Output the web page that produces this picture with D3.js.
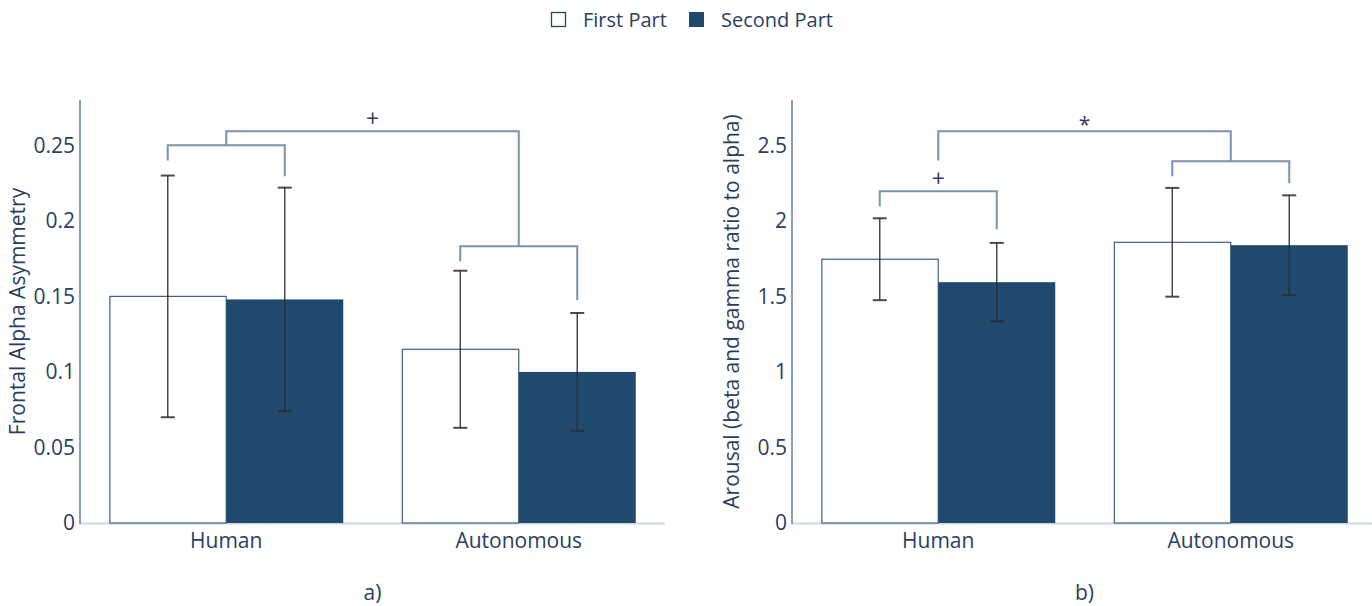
<!DOCTYPE html>
<html>
<head>
<meta charset="utf-8">
<script src="https://cdn.jsdelivr.net/npm/d3@7"></script>
<style>
  html, body { margin: 0; padding: 0; background: #fff; }
  svg { display: block; font-family: "Open Sans", "Noto Sans", sans-serif; }
</style>
</head>
<body>
<svg id="chart" width="1372" height="606"></svg>
<script>
// ---------- data ----------
const categories = ["Human", "Autonomous"];
const seriesNames = ["First Part", "Second Part"];

// Panel a) Frontal Alpha Asymmetry
const faaFirst = [0.150, 0.115];
const faaSecond = [0.148, 0.100];
const faaFirstErr = [0.080, 0.052];
const faaSecondErr = [0.074, 0.039];
const faaTicks = [0, 0.05, 0.1, 0.15, 0.2, 0.25];

// Panel b) Arousal
const arFirst = [1.746, 1.858];
const arSecond = [1.594, 1.839];
const arFirstErr = [0.271, 0.360];
const arSecondErr = [0.260, 0.330];
const arTicks = [0, 0.5, 1, 1.5, 2, 2.5];

// significance brackets: from/to = [category, series index (0.5 = group centre)]
const faaBrackets = [
  { from: ["Human", 0], to: ["Human", 1], y: 0.250, yFrom: 0.240, yTo: 0.2295, label: "" },
  { from: ["Autonomous", 0], to: ["Autonomous", 1], y: 0.1832, yFrom: 0.1733, yTo: 0.1475, label: "" },
  { from: ["Human", 0.5], to: ["Autonomous", 0.5], y: 0.2593, yFrom: 0.250, yTo: 0.1832, label: "+" }
];
const arBrackets = [
  { from: ["Human", 0], to: ["Human", 1], y: 2.196, yFrom: 2.097, yTo: 1.944, label: "+" },
  { from: ["Autonomous", 0], to: ["Autonomous", 1], y: 2.394, yFrom: 2.295, yTo: 2.249, label: "" },
  { from: ["Human", 0.5], to: ["Autonomous", 0.5], y: 2.593, yFrom: 2.400, yTo: 2.394, label: "*" }
];

// ---------- style ----------
const DARK = "#1f4a6d";
const TEXT = "#2a3f5f";
const AXIS = "#6b87a5";
const BASE = "#cdd7e2";
const BRACKET = "#7893b1";
const ERR = "#2b2b2b";

const svg = d3.select("#chart");

// legend
const legend = svg.append("g");
legend.append("rect").attr("x", 551.5).attr("y", 12.5).attr("width", 14).attr("height", 14)
  .attr("fill", "#fff").attr("stroke", DARK).attr("stroke-width", 1.3);
legend.append("text").attr("x", 583).attr("y", 27).attr("fill", TEXT).attr("font-size", 20).text(seriesNames[0]);
legend.append("rect").attr("x", 689).attr("y", 12).attr("width", 15).attr("height", 15)
  .attr("fill", DARK);
legend.append("text").attr("x", 721).attr("y", 27).attr("fill", TEXT).attr("font-size", 20).text(seriesNames[1]);

function panel(opts) {
  const { x0, x1, yTop, yBot, yMax, first, second, firstErr, secondErr, ticks, title, subLabel, brackets, titleX } = opts;
  const g = svg.append("g");

  const x = d3.scaleBand().domain(categories).range([x0, x1]).paddingInner(0.2).paddingOuter(0.1);
  const xs = d3.scaleBand().domain([0, 1]).range([0, x.bandwidth()]).padding(0);
  const y = d3.scaleLinear().domain([0, yMax]).range([yBot, yTop]);

  const data = [];
  categories.forEach((c, i) => {
    data.push({ cat: c, s: 0, v: first[i], e: firstErr[i] });
    data.push({ cat: c, s: 1, v: second[i], e: secondErr[i] });
  });

  // baseline
  g.append("line").attr("x1", x0).attr("x2", x1).attr("y1", yBot + 0.5).attr("y2", yBot + 0.5)
    .attr("stroke", BASE).attr("stroke-width", 2);

  // bars
  g.selectAll("rect.bar").data(data).enter().append("rect")
    .attr("class", "bar")
    .attr("x", d => x(d.cat) + xs(d.s) + (d.s === 0 ? 0.6 : 0))
    .attr("width", d => xs.bandwidth() - (d.s === 0 ? 0.6 : 0))
    .attr("y", d => y(d.v))
    .attr("height", d => y(0) - y(d.v))
    .attr("fill", d => d.s === 0 ? "#fff" : DARK)
    .attr("stroke", d => d.s === 0 ? "#3e6185" : "none")
    .attr("stroke-width", 1.2);

  // y axis
  const yAxis = d3.axisLeft(y).tickValues(ticks).tickSize(0).tickPadding(5).tickFormat(d3.format("~g"));
  const ax = g.append("g").attr("transform", `translate(${x0},0)`).call(yAxis);
  ax.select(".domain").remove();
  ax.selectAll("text").attr("fill", TEXT).attr("font-size", 21).attr("font-family", '"Open Sans", sans-serif');
  g.append("line").attr("x1", x0).attr("x2", x0).attr("y1", yTop).attr("y2", yBot + 1)
    .attr("stroke", AXIS).attr("stroke-width", 1.6);

  // category labels
  g.selectAll("text.cat").data(categories).enter().append("text")
    .attr("class", "cat")
    .attr("x", d => x(d) + x.bandwidth() / 2)
    .attr("y", yBot + 25)
    .attr("text-anchor", "middle")
    .attr("fill", TEXT).attr("font-size", 21)
    .text(d => d);

  // error bars
  const cap = 7;
  const eb = g.selectAll("g.err").data(data).enter().append("g").attr("class", "err")
    .attr("stroke", ERR).attr("stroke-width", 1.5).attr("stroke-opacity", 0.85);
  const cx = d => x(d.cat) + xs(d.s) + xs.bandwidth() / 2;
  eb.append("line").attr("x1", cx).attr("x2", cx).attr("y1", d => y(d.v - d.e)).attr("y2", d => y(d.v + d.e));
  eb.append("line").attr("x1", d => cx(d) - cap).attr("x2", d => cx(d) + cap).attr("y1", d => y(d.v + d.e)).attr("y2", d => y(d.v + d.e)).attr("stroke-width", 2);
  eb.append("line").attr("x1", d => cx(d) - cap).attr("x2", d => cx(d) + cap).attr("y1", d => y(d.v - d.e)).attr("y2", d => y(d.v - d.e)).attr("stroke-width", 2);

  // brackets
  const bx = p => {
    const [c, s] = p;
    if (s === 0.5) return x(c) + x.bandwidth() / 2;
    return x(c) + xs(s) + xs.bandwidth() / 2;
  };
  brackets.forEach(b => {
    const xa = bx(b.from), xb = bx(b.to);
    g.append("path")
      .attr("d", `M${xa},${y(b.yFrom)}V${y(b.y)}H${xb}V${y(b.yTo)}`)
      .attr("fill", "none").attr("stroke", BRACKET).attr("stroke-width", 2);
    if (b.label) {
      const isStar = b.label === "*";
      g.append("text")
        .attr("x", (xa + xb) / 2)
        .attr("y", y(b.y) - (isStar ? -1 : 4))
        .attr("text-anchor", "middle")
        .attr("fill", TEXT).attr("font-size", isStar ? 21 : 23)
        .text(b.label);
    }
  });

  // axis title
  g.append("text")
    .attr("transform", `translate(${titleX},${(yTop + yBot) / 2}) rotate(-90)`)
    .attr("text-anchor", "middle")
    .attr("dominant-baseline", "central")
    .attr("fill", TEXT).attr("font-size", 21)
    .text(title);

  // sub label
  g.append("text")
    .attr("x", (x0 + x1) / 2)
    .attr("y", 600)
    .attr("text-anchor", "middle")
    .attr("fill", TEXT).attr("font-size", 21)
    .text(subLabel);
  return g;
}

panel({
  x0: 80, x1: 665, yTop: 100, yBot: 523, yMax: 0.28,
  first: faaFirst, second: faaSecond, firstErr: faaFirstErr, secondErr: faaSecondErr,
  ticks: faaTicks, title: "Frontal Alpha Asymmetry", subLabel: "a)", brackets: faaBrackets, titleX: 17
});
panel({
  x0: 792, x1: 1377, yTop: 100, yBot: 523, yMax: 2.8,
  first: arFirst, second: arSecond, firstErr: arFirstErr, secondErr: arSecondErr,
  ticks: arTicks, title: "Arousal (beta and gamma ratio to alpha)", subLabel: "b)", brackets: arBrackets, titleX: 731
});
</script>
</body>
</html>
